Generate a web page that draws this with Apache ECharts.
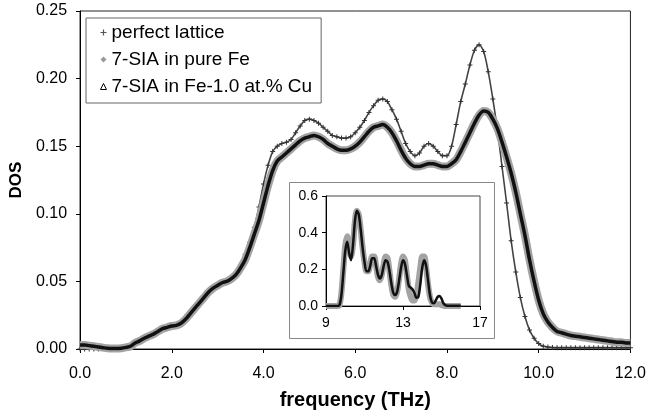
<!DOCTYPE html>
<html><head><meta charset="utf-8">
<script src="https://cdn.jsdelivr.net/npm/echarts@6/dist/echarts.min.js"></script>
<style>html,body{margin:0;padding:0;background:#fff}#c{width:649px;height:418px}</style>
</head><body><div id="c"></div>
<script>
// frequency grid of the main plot (THz)
const freq = [0.0,0.1,0.2,0.3,0.4,0.5,0.6,0.7,0.8,0.9,1.0,1.1,1.2,1.3,1.4,1.5,1.6,1.7,1.8,1.9,2.0,2.1,2.2,2.3,2.4,2.5,2.6,2.7,2.8,2.9,3.0,3.1,3.2,3.3,3.4,3.5,3.6,3.7,3.8,3.9,4.0,4.1,4.2,4.3,4.4,4.5,4.6,4.7,4.8,4.9,5.0,5.1,5.2,5.3,5.4,5.5,5.6,5.7,5.8,5.9,6.0,6.1,6.2,6.3,6.4,6.5,6.6,6.7,6.8,6.9,7.0,7.1,7.2,7.3,7.4,7.5,7.6,7.7,7.8,7.9,8.0,8.1,8.2,8.3,8.4,8.5,8.6,8.7,8.8,8.9,9.0,9.1,9.2,9.3,9.4,9.5,9.6,9.7,9.8,9.9,10.0,10.1,10.2,10.3,10.4,10.5,10.6,10.7,10.8,10.9,11.0,11.1,11.2,11.3,11.4,11.5,11.6,11.7,11.8,11.9,12.0];

const perfectLattice = [0.000,0.000,0.000,0.000,0.000,0.0003,0.0005,0.0007,0.001,0.0013,0.002,0.003,0.0042,0.0058,0.0078,0.0095,0.011,0.013,0.015,0.016,0.017,0.018,0.019,0.022,0.026,0.030,0.035,0.039,0.043,0.046,0.048,0.050,0.051,0.053,0.056,0.062,0.070,0.079,0.090,0.105,0.122,0.136,0.146,0.150,0.152,0.153,0.155,0.160,0.165,0.169,0.170,0.169,0.167,0.164,0.161,0.158,0.157,0.156,0.156,0.157,0.160,0.164,0.169,0.175,0.180,0.184,0.185,0.183,0.177,0.170,0.161,0.152,0.146,0.143,0.145,0.150,0.152,0.150,0.146,0.143,0.143,0.150,0.166,0.183,0.196,0.210,0.221,0.225,0.220,0.205,0.185,0.162,0.135,0.108,0.080,0.057,0.038,0.024,0.014,0.008,0.004,0.002,0.0015,0.0012,0.001,0.001,0.001,0.001,0.001,0.001,0.001,0.001,0.001,0.001,0.001,0.001,0.001,0.001,0.001,0.001,0.001];

const siaPureFe = [0.003,0.003,0.0025,0.002,0.0015,0.001,0.0005,0.0003,0.0003,0.0006,0.0012,0.002,0.0045,0.006,0.008,0.0095,0.011,0.013,0.015,0.016,0.017,0.0175,0.019,0.022,0.026,0.030,0.034,0.038,0.042,0.045,0.047,0.049,0.050,0.052,0.055,0.060,0.066,0.075,0.085,0.095,0.108,0.121,0.132,0.139,0.142,0.145,0.148,0.151,0.154,0.156,0.157,0.158,0.157,0.155,0.152,0.150,0.148,0.147,0.147,0.148,0.150,0.153,0.157,0.161,0.164,0.165,0.166,0.164,0.160,0.154,0.147,0.141,0.137,0.135,0.135,0.136,0.137,0.137,0.136,0.135,0.135,0.137,0.140,0.146,0.153,0.160,0.167,0.173,0.176,0.175,0.170,0.163,0.153,0.142,0.130,0.116,0.100,0.084,0.066,0.050,0.036,0.026,0.020,0.016,0.013,0.012,0.011,0.010,0.0095,0.009,0.0085,0.008,0.0075,0.007,0.0065,0.006,0.0055,0.005,0.005,0.0045,0.0045];

const siaFeCu = [0.003,0.003,0.0025,0.002,0.0015,0.001,0.0005,0.0003,0.0003,0.0006,0.0012,0.002,0.0045,0.006,0.008,0.0095,0.011,0.013,0.015,0.016,0.017,0.0175,0.019,0.022,0.026,0.030,0.034,0.038,0.042,0.045,0.047,0.049,0.050,0.052,0.055,0.060,0.066,0.075,0.085,0.095,0.108,0.121,0.132,0.139,0.142,0.145,0.148,0.151,0.154,0.156,0.157,0.158,0.157,0.155,0.152,0.150,0.148,0.147,0.147,0.148,0.150,0.153,0.157,0.161,0.164,0.165,0.166,0.164,0.160,0.154,0.147,0.141,0.137,0.135,0.135,0.136,0.137,0.137,0.136,0.135,0.135,0.137,0.140,0.146,0.153,0.160,0.167,0.173,0.176,0.175,0.170,0.163,0.153,0.142,0.130,0.116,0.100,0.084,0.066,0.050,0.036,0.026,0.020,0.016,0.013,0.012,0.011,0.010,0.0095,0.009,0.0085,0.008,0.0075,0.007,0.0065,0.006,0.0055,0.005,0.005,0.0045,0.0045];

// inset
const insetFreq = [9.0,9.1,9.2,9.3,9.4,9.5,9.6,9.7,9.8,9.9,10.0,10.1,10.2,10.3,10.4,10.5,10.6,10.7,10.8,10.9,11.0,11.1,11.2,11.3,11.4,11.5,11.6,11.7,11.8,11.9,12.0,12.1,12.2,12.3,12.4,12.5,12.6,12.7,12.8,12.9,13.0,13.1,13.2,13.3,13.4,13.5,13.6,13.7,13.8,13.9,14.0,14.1,14.2,14.3,14.4,14.5,14.6,14.7,14.8,14.9,15.0,15.1,15.2,15.3,15.4,15.5,15.6,15.7,15.8,15.9,16.0];
const insetPureFe = [0,0,0,0,0,0,0,0.005,0.07,0.20,0.33,0.38,0.32,0.27,0.33,0.46,0.52,0.50,0.42,0.32,0.24,0.19,0.19,0.23,0.27,0.27,0.22,0.16,0.14,0.17,0.23,0.27,0.26,0.19,0.11,0.06,0.05,0.08,0.15,0.23,0.27,0.25,0.17,0.09,0.05,0.03,0.03,0.06,0.13,0.21,0.27,0.27,0.21,0.12,0.05,0.02,0.01,0.01,0.01,0.01,0.005,0.002,0,0,0,0,0,0,0,0,0];
const insetFeCu = [0,0,0,0,0,0,0,0.005,0.06,0.18,0.30,0.35,0.29,0.25,0.33,0.46,0.52,0.50,0.42,0.32,0.24,0.19,0.19,0.22,0.26,0.26,0.22,0.17,0.15,0.17,0.22,0.25,0.24,0.19,0.12,0.07,0.06,0.08,0.14,0.21,0.25,0.23,0.17,0.11,0.10,0.09,0.07,0.045,0.05,0.12,0.21,0.25,0.22,0.14,0.06,0.02,0.015,0.03,0.05,0.055,0.04,0.015,0.005,0.002,0.002,0.002,0.002,0.002,0.002,0.002,0.002];

const mainXTicks = ['0.0','2.0','4.0','6.0','8.0','10.0','12.0'];
const mainYTicks = ['0.00','0.05','0.10','0.15','0.20','0.25'];
const insetXTicks = ['9','13','17'];
const insetYTicks = ['0.0','0.2','0.4','0.6'];
const names = ['perfect lattice','7-SIA in pure Fe','7-SIA in Fe-1.0 at.% Cu'];

const pair = (xs, ys) => xs.map((x, i) => [x, ys[i]]);
const FONT = 'Liberation Sans';
const plusPath = 'path://M2,0h1v2h2v1h-2v2h-1v-2h-2v-1h2z';

const chart = echarts.init(document.getElementById('c'), null, {renderer: 'canvas'});
chart.setOption({
  animation: false,
  backgroundColor: '#fff',
  textStyle: {fontFamily: FONT},
  grid: [
    {left: 77, right: 17, top: 11, bottom: 69, show: true, borderColor: '#222', borderWidth: 1, backgroundColor: 'transparent'},
    {left: 326, top: 196, width: 154, height: 110, show: true, borderColor: '#444', borderWidth: 1, backgroundColor: '#fff', z: 5}
  ],
  graphic: [{type: 'rect', z: 1, shape: {x: 289.5, y: 182.5, width: 205, height: 156}, style: {fill: '#fff', stroke: '#888', lineWidth: 1}}],
  legend: {
    orient: 'vertical', left: 86, top: 18, padding: [5, 9, 7, 14], itemGap: 8,
    itemWidth: 6, itemHeight: 6, backgroundColor: '#fff', borderColor: '#666', borderWidth: 1,
    textStyle: {fontSize: 19, color: '#000', fontFamily: FONT},
    data: [
      {name: names[0], icon: plusPath, itemStyle: {color: '#555'}},
      {name: names[1], icon: 'diamond', itemStyle: {color: '#999'}},
      {name: names[2], icon: 'triangle', itemStyle: {color: '#fff', borderColor: '#000', borderWidth: 1}}
    ]
  },
  xAxis: [
    {gridIndex: 0, type: 'value', min: 0, max: 12, interval: 2,
     name: 'frequency (THz)', nameLocation: 'middle', nameGap: 41,
     nameTextStyle: {fontSize: 20, fontWeight: 'bold', color: '#000', fontFamily: FONT},
     axisLine: {lineStyle: {color: '#000', width: 1}},
     axisTick: {inside: false, length: 4, lineStyle: {color: '#000'}},
     axisLabel: {fontSize: 16, color: '#000', margin: 17, fontFamily: FONT, formatter: v => mainXTicks[Math.round(v / 2)]},
     splitLine: {show: false}},
    {gridIndex: 1, type: 'value', min: 9, max: 17, interval: 4, z: 6,
     axisLine: {lineStyle: {color: '#000', width: 1}},
     axisTick: {inside: false, length: 4, lineStyle: {color: '#000'}},
     axisLabel: {fontSize: 14, color: '#000', margin: 10, fontFamily: FONT, formatter: v => insetXTicks[Math.round((v - 9) / 4)]},
     splitLine: {show: false}}
  ],
  yAxis: [
    {gridIndex: 0, type: 'value', min: 0, max: 0.25, interval: 0.05,
     name: 'DOS', nameLocation: 'middle', nameGap: 53, nameRotate: 90,
     nameTextStyle: {fontSize: 17, fontWeight: 'bold', color: '#000', fontFamily: FONT},
     axisLine: {show: true, lineStyle: {color: '#000', width: 1}},
     axisTick: {show: true, inside: false, length: 4, lineStyle: {color: '#000'}},
     axisLabel: {fontSize: 16, color: '#000', margin: 13, fontFamily: FONT, formatter: v => mainYTicks[Math.round(v / 0.05)]},
     splitLine: {show: false}},
    {gridIndex: 1, type: 'value', min: 0, max: 0.6, interval: 0.2, z: 6,
     axisLine: {show: true, lineStyle: {color: '#000', width: 1}},
     axisTick: {show: true, inside: false, length: 4, lineStyle: {color: '#000'}},
     axisLabel: {fontSize: 14, color: '#000', margin: 8, fontFamily: FONT, formatter: v => insetYTicks[Math.round(v / 0.2)]},
     splitLine: {show: false}}
  ],
  series: [
    {name: names[0], type: 'line', xAxisIndex: 0, yAxisIndex: 0, smooth: 0.3, data: pair(freq, perfectLattice),
     showSymbol: true, symbol: plusPath, symbolSize: 5, itemStyle: {color: '#333'},
     lineStyle: {color: '#444', width: 1.6}, z: 2},
    {name: names[1], type: 'line', xAxisIndex: 0, yAxisIndex: 0, smooth: 0.3, data: pair(freq, siaPureFe),
     showSymbol: false, itemStyle: {color: '#999'}, lineStyle: {color: '#a3a3a3', width: 8}, z: 3},
    {name: names[2], type: 'line', xAxisIndex: 0, yAxisIndex: 0, smooth: 0.3, data: pair(freq, siaFeCu),
     showSymbol: false, itemStyle: {color: '#000'}, lineStyle: {color: '#111', width: 3.5}, z: 4},
    {name: names[1], type: 'line', xAxisIndex: 1, yAxisIndex: 1, smooth: 0.3, data: pair(insetFreq, insetPureFe),
     showSymbol: false, itemStyle: {color: '#999'}, lineStyle: {color: '#a3a3a3', width: 6}, z: 7},
    {name: names[2], type: 'line', xAxisIndex: 1, yAxisIndex: 1, smooth: 0.3, data: pair(insetFreq, insetFeCu),
     showSymbol: false, itemStyle: {color: '#000'}, lineStyle: {color: '#111', width: 2.5}, z: 8}
  ]
});
</script>
</body></html>
